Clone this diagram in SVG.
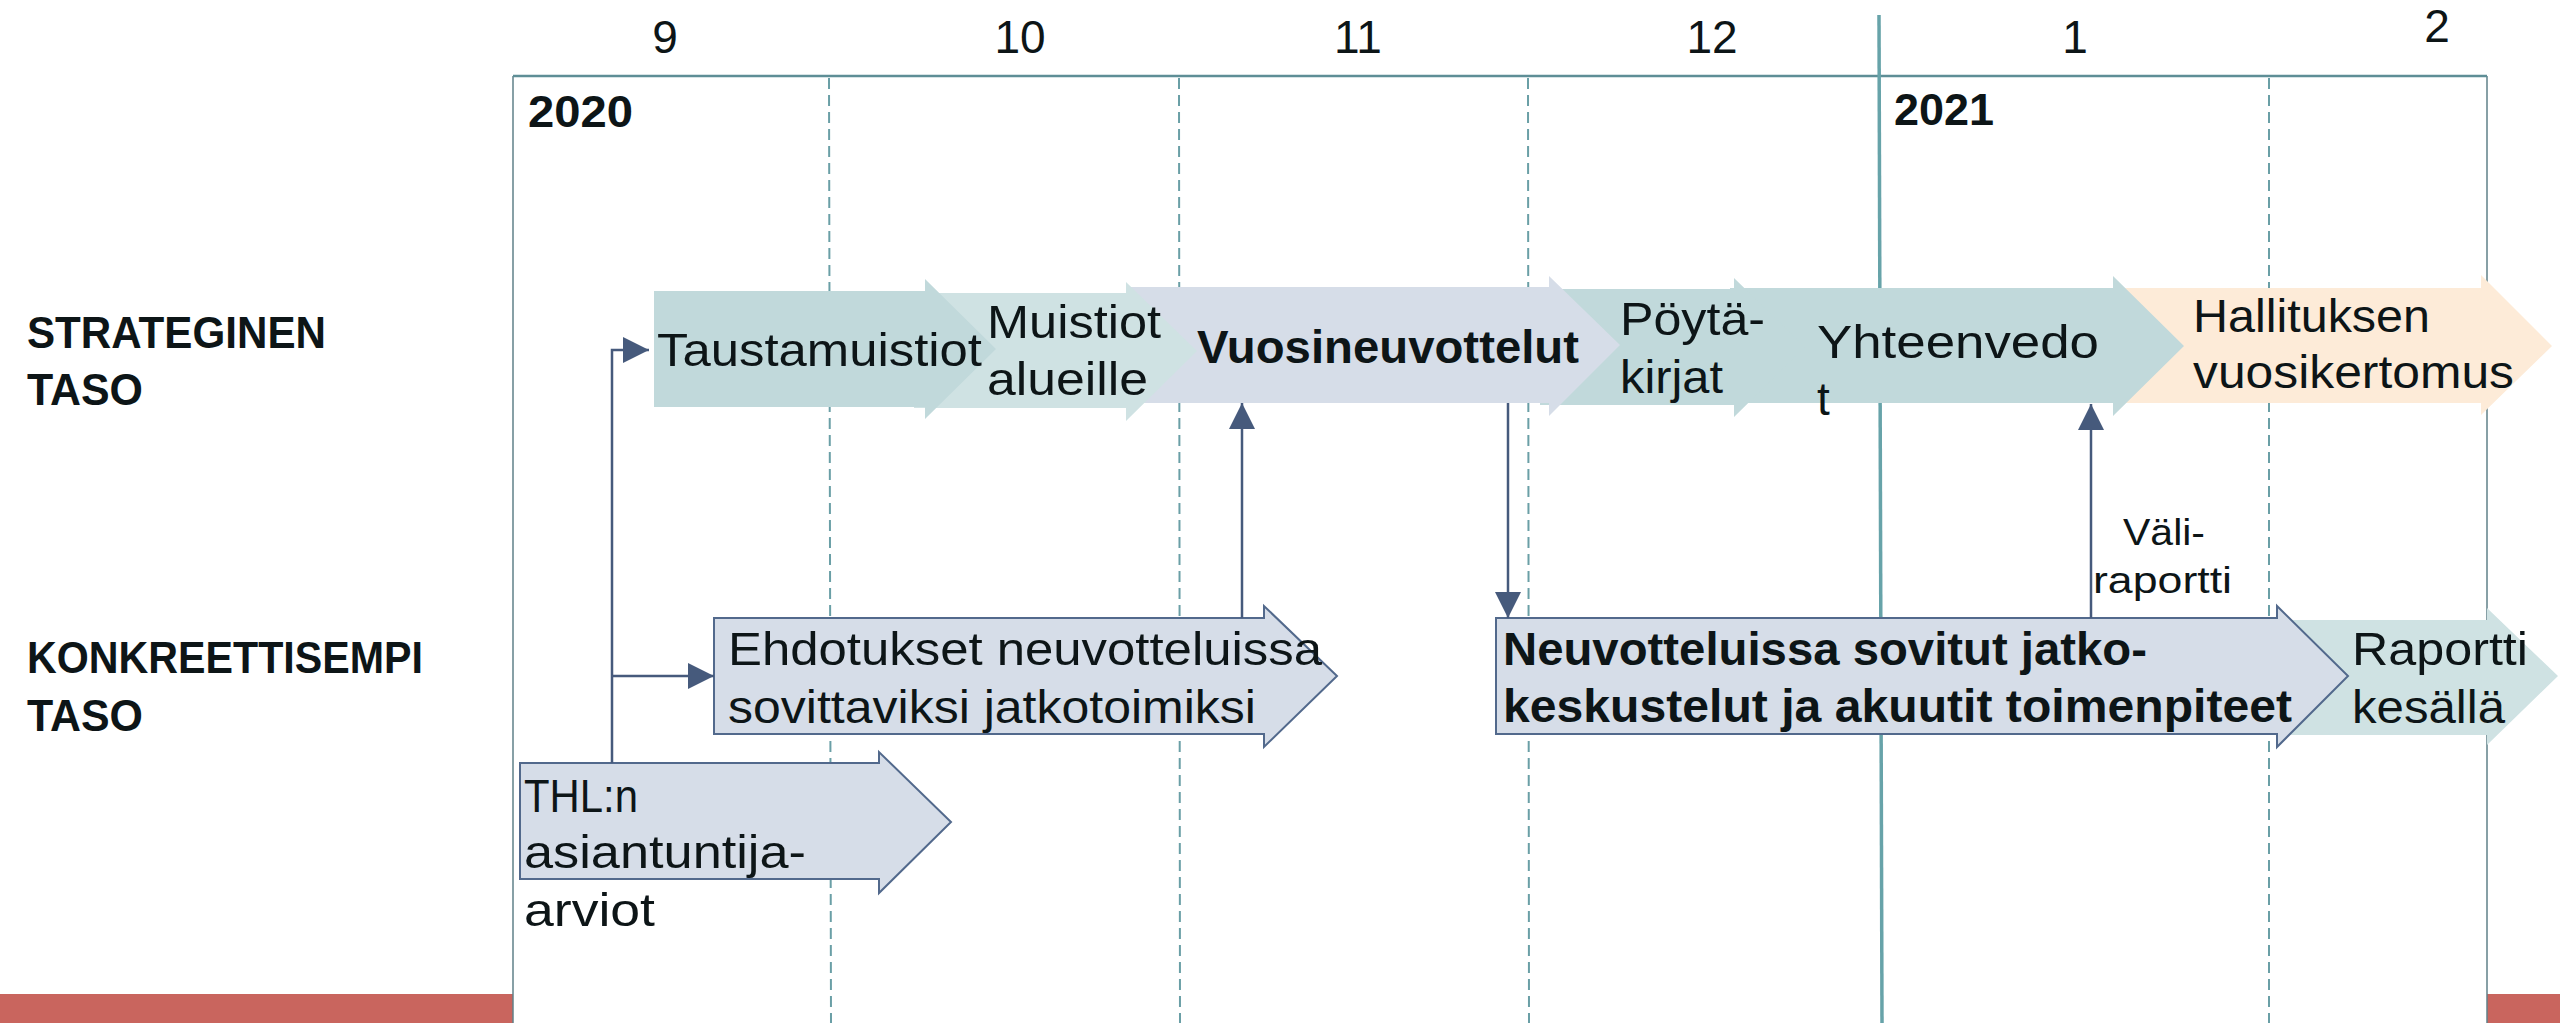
<svg xmlns="http://www.w3.org/2000/svg" width="2560" height="1023" viewBox="0 0 2560 1023">
<style>
text{font-family:"Liberation Sans",Arial,sans-serif;fill:#0d1517}
.m{font-size:46px}
.b{font-weight:bold}
.lab{font-size:45px;font-weight:bold}
.t{font-size:46px}
.s{font-size:36px}
.dash{stroke:#6a9fa6;stroke-width:2;stroke-dasharray:11 6;fill:none}
.conn{stroke:#465a7c;stroke-width:2.5;fill:none}
.bord{stroke:#52698c;stroke-width:2}
</style>
<defs>
<marker id="ah" markerUnits="userSpaceOnUse" markerWidth="27" markerHeight="27" refX="26" refY="13" orient="auto">
<path d="M0,0 L26,13 L0,26 z" fill="#465a7c"/>
</marker>
</defs>
<rect width="2560" height="1023" fill="#fff"/>

<g id="grid">
<rect x="0" y="994" width="513" height="29" fill="#c9655e"/>
<rect x="2487" y="994" width="73" height="29" fill="#c9655e"/>
<line x1="513" y1="76" x2="513" y2="1023" stroke="#5f8089" stroke-width="1.5"/>
<line x1="2487" y1="76" x2="2487" y2="1023" stroke="#5f8089" stroke-width="1.5"/>
<line x1="513" y1="76" x2="2487" y2="76" stroke="#5e8e96" stroke-width="2.5"/>
<line class="dash" x1="829" y1="78" x2="831" y2="1023"/>
<line class="dash" x1="1179" y1="78" x2="1180" y2="1023"/>
<line class="dash" x1="1528" y1="78" x2="1529" y2="1023"/>
<line class="dash" x1="2269" y1="78" x2="2269" y2="1023"/>
<line x1="1879" y1="15" x2="1882" y2="1023" stroke="#67a3a9" stroke-width="3.5"/>
<text class="m" x="665" y="53" text-anchor="middle">9</text>
<text class="m" x="1020" y="53" text-anchor="middle">10</text>
<text class="m" x="1358" y="53" text-anchor="middle">11</text>
<text class="m" x="1712" y="53" text-anchor="middle">12</text>
<text class="m" x="2075" y="53" text-anchor="middle">1</text>
<text class="m" x="2437" y="42" text-anchor="middle">2</text>
<text class="lab" x="528" y="127" textLength="105" lengthAdjust="spacingAndGlyphs">2020</text>
<text class="lab" x="1894" y="125" textLength="100" lengthAdjust="spacingAndGlyphs">2021</text>
<text class="lab" x="27" y="348" textLength="299" lengthAdjust="spacingAndGlyphs">STRATEGINEN</text>
<text class="lab" x="27" y="405" textLength="116" lengthAdjust="spacingAndGlyphs">TASO</text>
<text class="lab" x="27" y="673" textLength="396" lengthAdjust="spacingAndGlyphs">KONKREETTISEMPI</text>
<text class="lab" x="27" y="731" textLength="116" lengthAdjust="spacingAndGlyphs">TASO</text>
</g>

<g id="hallituksen">
<path d="M2100,288 H2481 V275 L2552,346 L2481,415 V403 H2100 z" fill="#fdebd8"/>
<text class="t" x="2193" y="332" textLength="237" lengthAdjust="spacingAndGlyphs">Hallituksen</text>
<text class="t" x="2193" y="388" textLength="321" lengthAdjust="spacingAndGlyphs">vuosikertomus</text>
</g>
<g id="yhteenvedot">
<path d="M1730,288 H2113 V276 L2184,346 L2113,416 V403 H1730 z" fill="#c1d9db"/>
<text class="t" x="1817" y="358" textLength="282" lengthAdjust="spacingAndGlyphs">Yhteenvedo</text>
<text class="t" x="1817" y="415">t</text>
</g>
<g id="poytakirjat">
<path d="M1540,289 H1734 V278 L1805,347 L1734,417 V405 H1540 z" fill="#c1d9db"/>
<text class="t" x="1620" y="335" textLength="145" lengthAdjust="spacingAndGlyphs">Pöytä-</text>
<text class="t" x="1620" y="393" textLength="103" lengthAdjust="spacingAndGlyphs">kirjat</text>
</g>
<g id="vuosineuvottelut">
<path d="M1126,287 H1549 V276 L1620,345 L1549,416 V403 H1126 z" fill="#d6dde8"/>
<text class="t b" x="1197" y="363" textLength="382" lengthAdjust="spacingAndGlyphs">Vuosineuvottelut</text>
</g>
<g id="muistiot">
<path d="M914,293 H1126 V282 L1197,351 L1126,421 V408 H914 z" fill="#cfe2e3"/>
<text class="t" x="987" y="338" textLength="174" lengthAdjust="spacingAndGlyphs">Muistiot</text>
<text class="t" x="987" y="395" textLength="161" lengthAdjust="spacingAndGlyphs">alueille</text>
</g>
<g id="taustamuistiot">
<path d="M654,291 H925 V279 L996,349 L925,419 V407 H654 z" fill="#c1d9db"/>
<text class="t" x="657" y="366" textLength="325" lengthAdjust="spacingAndGlyphs">Taustamuistiot</text>
</g>

<g id="raportti">
<path d="M2270,620 H2487 V608 L2558,676 L2487,745 V735 H2270 z" fill="#cfe2e3"/>
<text class="t" x="2352" y="665" textLength="176" lengthAdjust="spacingAndGlyphs">Raportti</text>
<text class="t" x="2352" y="723" textLength="153" lengthAdjust="spacingAndGlyphs">kesällä</text>
</g>
<g id="neuvotteluissa">
<path class="bord" d="M1496,618 H2277 V606 L2348,676 L2277,747 V734 H1496 z" fill="#d6dde8"/>
<text class="t b" x="1503" y="665" textLength="644" lengthAdjust="spacingAndGlyphs">Neuvotteluissa sovitut jatko-</text>
<text class="t b" x="1503" y="722" textLength="789" lengthAdjust="spacingAndGlyphs">keskustelut ja akuutit toimenpiteet</text>
</g>
<g id="ehdotukset">
<path class="bord" d="M714,618 H1264 V606 L1337,676 L1264,747 V734 H714 z" fill="#d6dde8"/>
<text class="t" x="728" y="665" textLength="594" lengthAdjust="spacingAndGlyphs">Ehdotukset neuvotteluissa</text>
<text class="t" x="728" y="723" textLength="528" lengthAdjust="spacingAndGlyphs">sovittaviksi jatkotoimiksi</text>
</g>
<g id="thl">
<path class="bord" d="M520,763 H879 V752 L951,822 L879,893 V879 H520 z" fill="#d6dde8"/>
<text class="t" x="524" y="812" textLength="114" lengthAdjust="spacingAndGlyphs">THL:n</text>
<text class="t" x="524" y="868" textLength="282" lengthAdjust="spacingAndGlyphs">asiantuntija-</text>
<text class="t" x="524" y="926" textLength="131" lengthAdjust="spacingAndGlyphs">arviot</text>
</g>

<g id="connectors">
<path class="conn" d="M612,763 V350 H649" marker-end="url(#ah)"/>
<path class="conn" d="M612,676 H714" marker-end="url(#ah)"/>
<path class="conn" d="M1242,618 V403" marker-end="url(#ah)"/>
<path class="conn" d="M1508,403 V618" marker-end="url(#ah)"/>
<path class="conn" d="M2091,618 V404" marker-end="url(#ah)"/>
<text class="s" x="2123" y="545" textLength="82" lengthAdjust="spacingAndGlyphs">Väli-</text>
<text class="s" x="2093" y="593" textLength="139" lengthAdjust="spacingAndGlyphs">raportti</text>
</g>
</svg>
